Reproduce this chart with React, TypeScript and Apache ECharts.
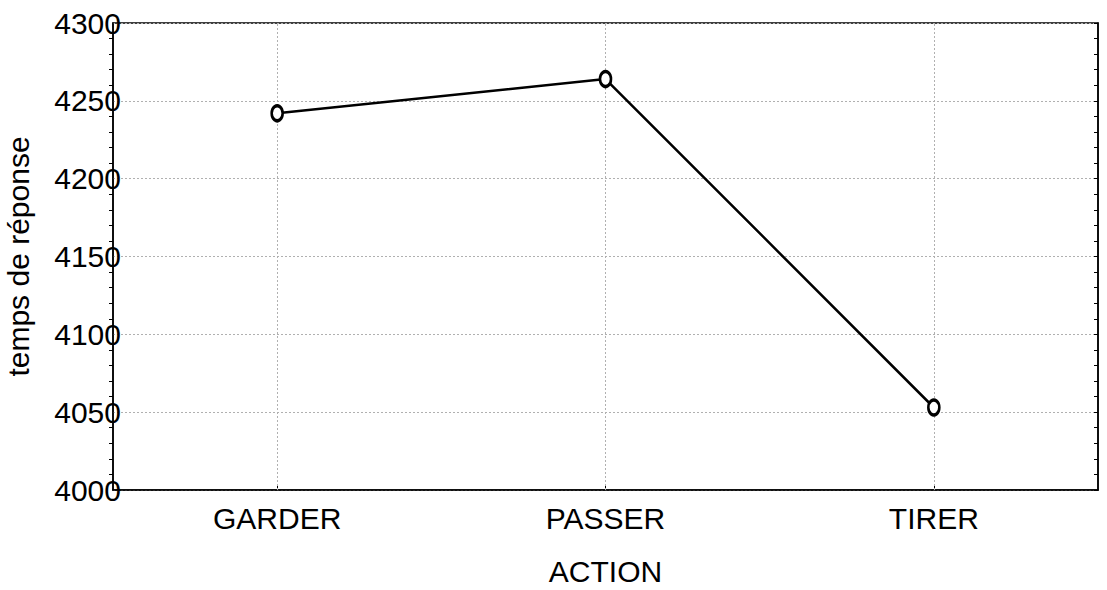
import React, { useEffect, useRef } from "react";
import * as echarts from "echarts";

const categories = ["GARDER", "PASSER", "TIRER"];
const values = [4242, 4264, 4053];
const yMin = 4000;
const yMax = 4300;
const yInterval = 50;
const xTitle = "ACTION";
const yTitle = "temps de réponse";

const FONT = "'Liberation Sans', Arial, sans-serif";
const FS = 30;

export default function App() {
  const ref = useRef<HTMLDivElement>(null);
  useEffect(() => {
    if (!ref.current) return;
    const chart = echarts.init(ref.current, null, { renderer: "svg" });
    const dotted = { color: "#b0b0b0", type: [2, 2] as any, width: 1 };
    chart.setOption({
      animation: false,
      backgroundColor: "#fff",
      grid: {
        left: 113,
        right: 9,
        top: 23,
        bottom: 100,
        containLabel: false,
        outerBoundsMode: "none",
        show: true,
        borderColor: "#000",
        borderWidth: 1.5,
      },
      xAxis: {
        type: "category",
        data: categories,
        boundaryGap: true,
        name: xTitle,
        nameLocation: "middle",
        nameGap: 66,
        nameTextStyle: { fontSize: FS, color: "#000", fontFamily: FONT },
        axisLine: { show: true, lineStyle: { color: "#000", width: 1.5 } },
        axisTick: { show: true, inside: true, alignWithLabel: true, length: 5, lineStyle: { color: "#000" } },
        axisLabel: { fontSize: FS, color: "#000", fontFamily: FONT, margin: 13 },
        splitLine: { show: false },
      },
      yAxis: [
        {
          type: "value",
          min: yMin,
          max: yMax,
          interval: yInterval,
          name: yTitle,
          nameLocation: "middle",
          nameGap: 80,
          nameTextStyle: { fontSize: FS, color: "#000", fontFamily: FONT },
          axisLine: { show: true, lineStyle: { color: "#000", width: 1.5 } },
          axisTick: { show: false },
          minorTick: { show: true, splitNumber: 5, length: 4, lineStyle: { color: "#000", width: 1 } },
          axisLabel: {
            fontSize: FS,
            color: "#000",
            fontFamily: FONT,
            margin: -8,
            formatter: (v: number) => String(v),
          },
          splitLine: { show: true, lineStyle: dotted },
        },
        {
          type: "value",
          min: yMin,
          max: yMax,
          interval: yInterval,
          position: "right",
          axisLine: { show: true, lineStyle: { color: "#000", width: 1.5 } },
          axisTick: { show: true, inside: true, length: 4, lineStyle: { color: "#000" } },
          minorTick: { show: true, splitNumber: 5, length: 4, lineStyle: { color: "#000", width: 1 } },
          axisLabel: { show: false },
          splitLine: { show: false },
        },
      ],
      series: [
        {
          type: "line",
          data: values,
          showSymbol: false,
          symbol: "none",
          lineStyle: { color: "#000", width: 2.5 },
          emphasis: { disabled: true },
          z: 4,
          markLine: {
            silent: true,
            symbol: ["none", "none"],
            label: { show: false },
            lineStyle: dotted,
            z: 1,
            data: categories.map((c) => ({ xAxis: c })),
          },
        },
        {
          type: "scatter",
          data: values,
          symbol: "circle",
          symbolSize: [11, 15],
          itemStyle: { color: "#fff", borderColor: "#000", borderWidth: 3, opacity: 1 },
          emphasis: { disabled: true },
          z: 6,
        },
      ],
    });
    return () => chart.dispose();
  }, []);
  return (
    <div
      ref={ref}
      style={{ position: "fixed", left: 0, top: 0, width: 1107, height: 590, background: "#fff" }}
    />
  );
}
